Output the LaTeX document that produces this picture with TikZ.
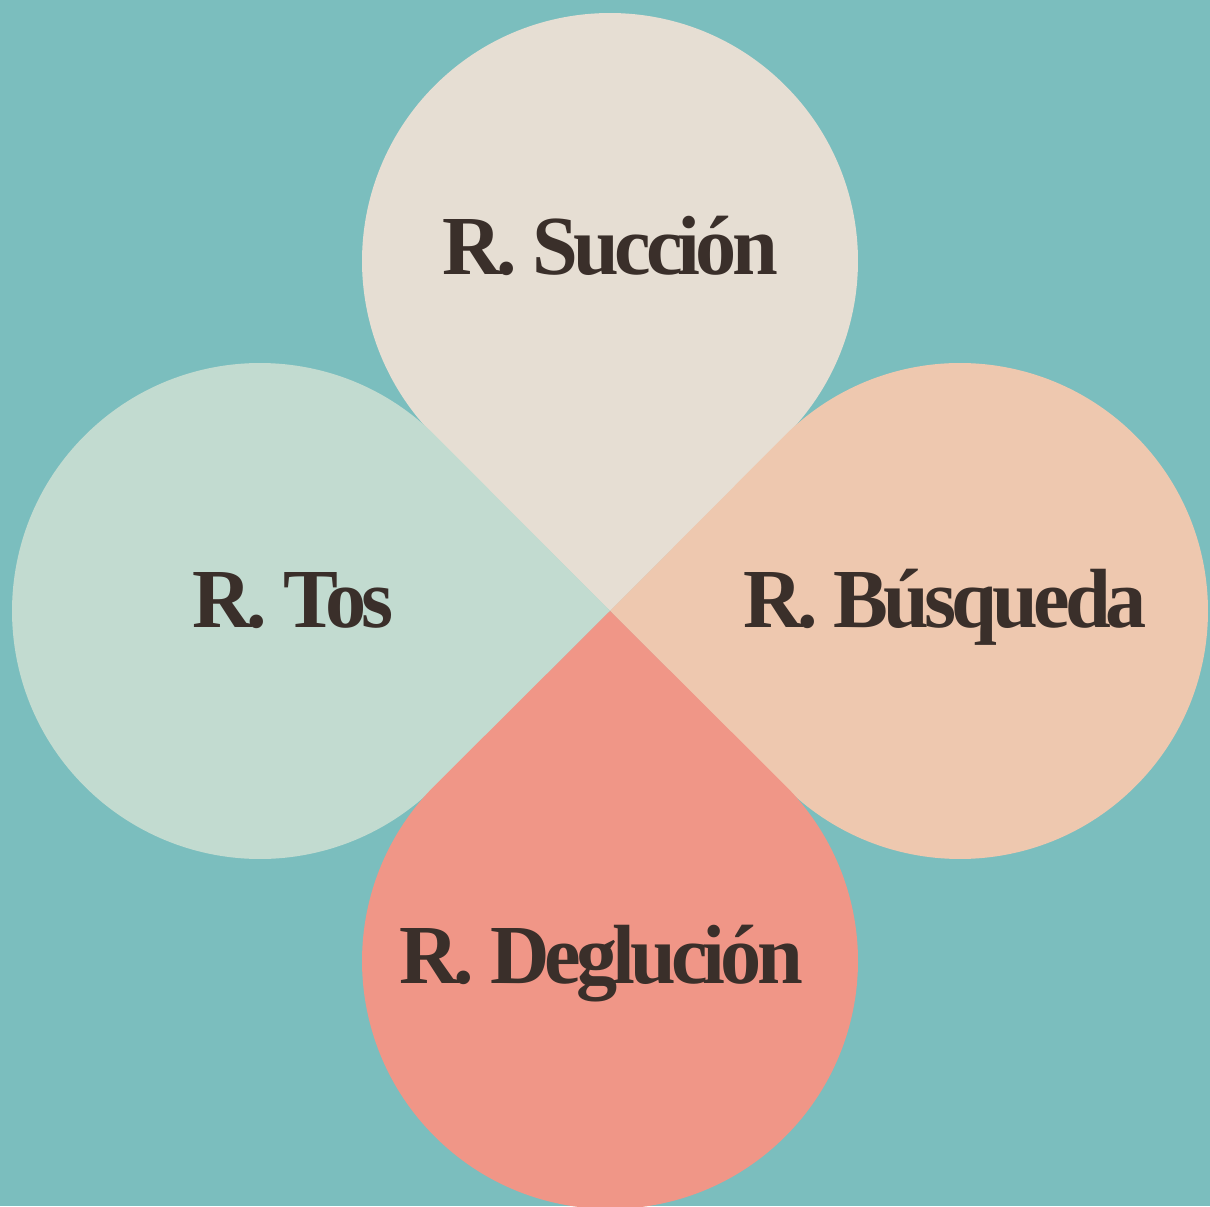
\documentclass[tikz,border=0pt]{standalone}
\usepackage{fontspec}
\usetikzlibrary{calc}
\setmainfont{Liberation Serif}[LetterSpace=-6]
\definecolor{fondo}{HTML}{7BBEBE}
\definecolor{cSuc}{HTML}{E6DED3}
\definecolor{cTos}{HTML}{C2DBD0}
\definecolor{cBus}{HTML}{EEC8AF}
\definecolor{cDeg}{HTML}{F09687}
\definecolor{letra}{HTML}{3A2F2A}
\tikzset{etiq/.style={anchor=base,text=letra,font=\fontsize{42}{50}\selectfont\bfseries,inner sep=0pt,xscale=0.98,transform shape}}
\begin{document}
\begin{tikzpicture}[x=0.5pt,y=0.5pt]
\pgfmathsetmacro{\r}{248}
\pgfmathsetmacro{\d}{350}
\pgfmathsetmacro{\ang}{acos(\r/\d)}
\fill[fondo](0,0) rectangle (1210,1206);
\useasboundingbox (0,0) rectangle (1210,1206);
\coordinate (tip) at (610,595);
\foreach \rot/\col in {0/cSuc,90/cTos,270/cBus,180/cDeg}{
\begin{scope}[shift={(tip)},rotate=\rot]
\fill[\col](0,0)--($(0,\d)+(-90+\ang:\r)$) arc[start angle=-90+\ang,end angle=270-\ang,radius=\r]--cycle;
\end{scope}
}
\node[etiq](suc) at (610,931) {R. Succión};
\node[etiq](tos) at (293,578) {R. Tos};
\node[etiq](bus) at (945,578) {R. Búsqueda};
\node[etiq](deg) at (601,223) {R. Deglución};
\end{tikzpicture}
\end{document}
